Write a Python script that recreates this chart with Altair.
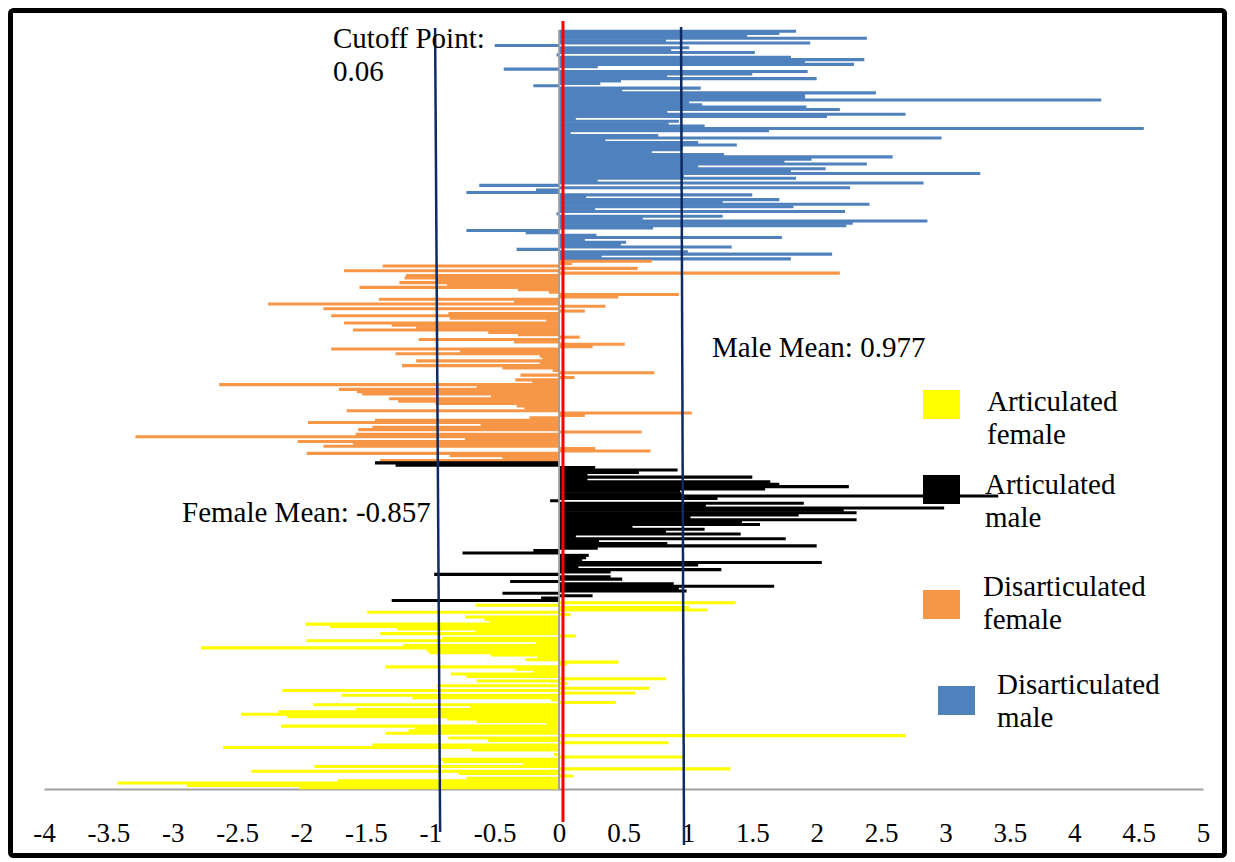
import altair as alt
import pandas as pd

# ---------------- data (top to bottom) ----------------
groups = ["Disarticulated male", "Disarticulated female", "Articulated male", "Articulated female"]
colors = ["#4f81bd", "#f79646", "#000000", "#ffff00"]

disart_male = [1.84, 1.71, 1.46, 2.39, 0.83, 1.95, -0.50, 1.01, 0.87, 1.52, -0.02, 1.80, 2.37, 1.91,
               2.29, 0.30, -0.43, 1.93, 1.50, 0.84, 2.00, 0.48, 0.32, -0.20, 1.10, 0.49, 2.46, 1.91,
               1.91, 4.21, 1.01, 1.11, 1.92, 2.18, 0.84, 2.69, 2.08, 0.13, 0.93, 0.85, 1.13, 4.54,
               1.63, 0.09, 0.77, 2.97, 0.36, 1.08, 1.38,
               0.96, 0.95, 0.72, 1.28, 2.59, 1.96, 1.75, 2.39, 1.08, 2.07, 1.80, 3.27, 0.97, 1.84,
               0.30, 2.83, -0.62, 2.26, -0.18, -0.72, 1.50, 0.21, 1.71, 1.27, 2.41, 1.82, 0.28, 2.22,
               -0.02, 1.27, 0.65, 2.86, 2.28, 2.23, 0.73, -0.72, -0.26, 0.29, 1.73, 0.20, 0.52, 0.48,
               1.34, -0.33, 1.00, 2.12, 0.33, 1.80]

disart_female = [0.72, 0.10, -1.37, 0.61, -1.67, 2.18, -1.19, -1.20, -0.95, -1.24, -0.87, -1.55,
                 -0.32, -0.08, 0.93, 0.46, -1.40, -0.35, -2.26, 0.36, -1.83, 0.20, -0.86, -1.77,
                 -0.85, -0.10, -1.67, -1.30, -1.11, -1.60, -0.55, -0.32, 0.16, -1.09, -0.35, 0.51,
                 0.26, -1.77, -0.77, -1.27, -0.15, -0.13, -1.11, -0.15, -1.22,
                 -0.44, -0.05, 0.74, -0.30, 0.12, -0.34, -0.21, -2.64, -0.64, -1.71, -1.57, -1.53,
                 -0.53, -1.32, -1.25, -0.96, -0.33, -0.27, -1.65, 1.03, 0.20, -0.23, -1.43, -1.95,
                 -0.61, -1.45, -1.56, 0.64, -1.58, -3.29, -0.73, -2.03, -1.60, -1.83, 0.28, 0.71,
                 -1.96, -0.85, -0.44, -1.39]

art_male = [-1.43, -1.27, 0.28, 0.92, 0.62, 0.22, 1.50, 0.22, 1.64, 1.71, 2.25, 1.60, 0.94, 0.95,
            3.41, 1.23, -0.07, 1.90, 1.14, 2.99, 2.21, 2.31, 1.86, 1.02, 2.31, 1.42, 1.56, 0.57,
            1.13, 0.83, 1.41,
            0.13, 1.76, 0.31, 0.84, 2.00, 0.30, -0.20, -0.75, 0.23, 0.21, 0.18, 2.04, 1.08, 0.15,
            1.26, 0.40, -0.97, 0.40, 0.49, -0.38, 0.89, 1.67, 0.93, 0.99, -0.44, 0.26, -0.14, -1.30]

art_female = [1.37, -0.65, 1.01, 1.15, -1.49, 0.09, -0.73, -0.58, -0.54, -1.97, -1.78, -1.26, -0.65,
              -1.39, 0.13, -0.91, -1.96, -0.18, -1.21, -2.78, -1.03, -1.01, -0.53, -0.17, -0.26,
              0.46, 0.06, -1.35, -0.34, -0.20, -0.84, -0.72, 0.83, -0.64, 0.06, -0.95, 0.70, -2.15,
              0.59,
              -1.69, -1.14, -0.06, 0.44, -1.91, -0.69, -1.58, -2.18, -2.47, -2.11, -0.87, -0.64,
              -0.10, -2.16, -1.12, -1.17, -1.35, 2.69, -0.86, -0.55, 0.85, -1.45, -2.61, -0.68,
              0.00, -0.04, 0.96, -0.92, -0.90, -0.28, -1.90, 1.33, -2.39, -0.78, 0.11, -0.72,
              -1.72, -3.43, -2.89, -2.02]

x_ticks = [-4, -3.5, -3, -2.5, -2, -1.5, -1, -0.5, 0, 0.5, 1, 1.5, 2, 2.5, 3, 3.5, 4, 4.5, 5]

cutoff_line = [0.03, 0.03]          # drawn red line (top, bottom)
female_line = [-0.963, -0.924]      # drawn navy line (top, bottom)
male_line = [0.947, 0.970]

annot_texts = ["Cutoff Point:\n0.06", "Male Mean: 0.977", "Female Mean: -0.857"]
legend_labels = ["Articulated\nfemale", "Articulated\nmale", "Disarticulated\nfemale", "Disarticulated\nmale"]
legend_groups = ["Articulated female", "Articulated male", "Disarticulated female", "Disarticulated male"]

# ---------------- table ----------------
rows = []
for g, vals in zip(groups, [disart_male, disart_female, art_male, art_female]):
    for v in vals:
        rows.append({"idx": len(rows), "value": v, "group": g})
df = pd.DataFrame(rows)

# ---------------- layout (pixels, relative to plot origin) ----------------
W, H = 1159, 759
PAD = {"left": 36, "top": 22, "right": 24, "bottom": 69}
SERIF = "Liberation Serif"

xscale = alt.Scale(domain=[-4, 5], nice=False, zero=False)
color_scale = alt.Scale(domain=groups, range=colors)

bars = alt.Chart(df).mark_bar(opacity=1, height=alt.RelativeBandSize(band=1.3)).encode(
    x=alt.X("value:Q", scale=xscale,
            axis=alt.Axis(values=x_ticks, labelExpr="'' + datum.value", title=None, grid=False,
                          ticks=False, tickSize=0, domain=True, domainColor="#a0a0a0",
                          domainWidth=2, labelFont=SERIF, labelFontSize=27, labelColor="#000000",
                          labelPadding=31, labelFlush=False, labelOverlap=False)),
    y=alt.Y("idx:O", axis=None, scale=alt.Scale(paddingInner=0, paddingOuter=0)),
    color=alt.Color("group:N", scale=color_scale, legend=None),
)

zero_line = alt.Chart(pd.DataFrame({"x": [0]})).mark_rule(color="#a0a0a0", strokeWidth=2).encode(
    x="x:Q", y=alt.value(0), y2=alt.value(H))


def slanted(vals, color, width, ytop, ybot):
    d = pd.DataFrame({"x": [vals[0]], "x2": [vals[1]]})
    return alt.Chart(d).mark_rule(color=color, strokeWidth=width).encode(
        x="x:Q", x2="x2:Q", y=alt.value(ytop), y2=alt.value(ybot))


navy = "#0d2a62"
line_f = slanted(female_line, navy, 2.5, -2, 802)
line_m = slanted(male_line, navy, 2.5, -3, 815)
line_c = slanted(cutoff_line, "#ff0000", 3, -9, 792)

annot_df = pd.DataFrame({"text": annot_texts, "px": [289, 668, 138], "py": [18, 327, 492]})
annots = alt.Chart(annot_df).mark_text(align="left", baseline="alphabetic", lineBreak="\n",
                                       lineHeight=33, font=SERIF, fontSize=29, color="#000000").encode(
    x=alt.X("px:Q", scale=None, axis=None), y=alt.Y("py:Q", scale=None, axis=None), text="text:N")

leg_df = pd.DataFrame({"label": legend_labels, "group": legend_groups,
                       "sx": [879, 879, 879, 894], "sy": [360, 445, 560, 656],
                       "tx": [943, 941, 939, 953], "ty": [381, 464, 566, 664]})
leg_df["sx2"] = leg_df["sx"] + 37
leg_df["sy2"] = leg_df["sy"] + 29

leg_sq = alt.Chart(leg_df).mark_rect().encode(
    x=alt.X("sx:Q", scale=None, axis=None), x2="sx2:Q",
    y=alt.Y("sy:Q", scale=None, axis=None), y2="sy2:Q",
    color=alt.Color("group:N", scale=color_scale, legend=None))
leg_txt = alt.Chart(leg_df).mark_text(align="left", baseline="alphabetic", lineBreak="\n",
                                      lineHeight=33, font=SERIF, fontSize=29, color="#000000").encode(
    x=alt.X("tx:Q", scale=None, axis=None), y=alt.Y("ty:Q", scale=None, axis=None), text="label:N")

frame = alt.Chart(pd.DataFrame({"a": [0]})).mark_rect(
    fill="white", fillOpacity=0, stroke="#000000", strokeWidth=5, cornerRadius=3).encode(
    x=alt.value(-33.5), x2=alt.value(W + PAD["right"] - 2.5),
    y=alt.value(-19.5), y2=alt.value(H + PAD["bottom"] - 2.5))

chart = alt.layer(bars, zero_line, line_f, line_m, line_c, annots, leg_sq, leg_txt, frame).properties(
    width=W, height=H, padding=PAD, autosize=alt.AutoSizeParams(type="none"),
    background="white",
).configure_view(stroke=None)

chart.save("out.html", embed_options={"renderer": "svg", "actions": False})
